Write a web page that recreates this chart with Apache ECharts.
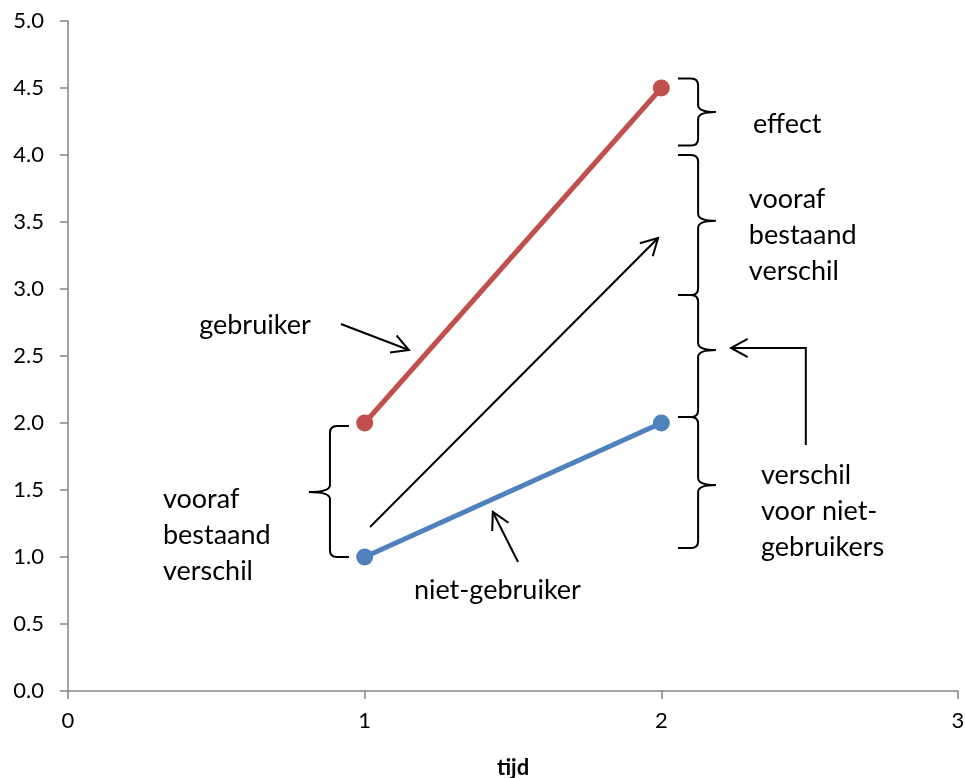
<!DOCTYPE html>
<html>
<head>
<meta charset="utf-8">
<script src="https://cdn.jsdelivr.net/npm/echarts@6/dist/echarts.min.js"></script>
<style>html,body{margin:0;padding:0;background:#fff}#c{width:965px;height:778px}</style>
</head>
<body>
<div id="c"></div>
<script>
// ---- data ----
var xTicks = [0, 1, 2, 3];
var yTicks = [0, 0.5, 1, 1.5, 2, 2.5, 3, 3.5, 4, 4.5, 5];
var tijd = [1, 2];
var gebruiker = [2.0, 4.5];
var nietGebruiker = [1.0, 2.0];

// braces: [xVertical, yTop, yBottom, xArm, xTip, yTip]
var braces = [
  [0.883, 1.978, 1.000, 0.947, 0.812, 1.485],
  [2.124, 4.570, 4.070, 2.056, 2.184, 4.320],
  [2.124, 4.000, 2.955, 2.056, 2.184, 3.510],
  [2.124, 2.955, 2.045, 2.056, 2.184, 2.545],
  [2.124, 2.045, 1.067, 2.056, 2.184, 1.537]
];
// arrows: polylines in data coordinates, arrowhead at last point
var arrows = [
  [[1.018, 1.224], [1.989, 3.381]],
  [[0.920, 2.739], [1.149, 2.545]],
  [[1.517, 0.963], [1.432, 1.336]],
  [[2.487, 1.836], [2.487, 2.560], [2.235, 2.560]]
];
// labels: [xLeft, yCenter, text]
var labels = [
  [2.309, 4.231, 'effect'],
  [2.295, 3.403, 'vooraf\nbestaand\nverschil'],
  [0.442, 2.731, 'gebruiker'],
  [0.320, 1.164, 'vooraf\nbestaand\nverschil'],
  [1.166, 0.754, 'niet-gebruiker'],
  [2.336, 1.343, 'verschil\nvoor niet-\ngebruikers']
];

var FONT = 'Lato';
var chart = echarts.init(document.getElementById('c'));

function bracePath(p) {
  var xV = p.xV, yT = p.yT, yB = p.yB, xA = p.xA, xT = p.xT, yM = p.yM;
  var d = xT > xV ? 1 : -1;
  var r = 7;
  return 'M' + xA + ',' + yT +
    ' L' + (xV - d * r) + ',' + yT +
    ' Q' + xV + ',' + yT + ' ' + xV + ',' + (yT + r) +
    ' L' + xV + ',' + (yM - r) +
    ' Q' + xV + ',' + yM + ' ' + xT + ',' + yM +
    ' Q' + xV + ',' + yM + ' ' + xV + ',' + (yM + r) +
    ' L' + xV + ',' + (yB - r) +
    ' Q' + xV + ',' + yB + ' ' + (xV - d * r) + ',' + yB +
    ' L' + xA + ',' + yB;
}

chart.setOption({
  animation: false,
  grid: {left: 68, right: 7, top: 21, bottom: 87, containLabel: false, outerBoundsMode: 'none'},
  xAxis: {
    type: 'value', min: xTicks[0], max: xTicks[xTicks.length - 1], interval: 1,
    name: 'tijd', nameLocation: 'middle', nameGap: 66,
    nameTextStyle: {fontFamily: FONT, fontWeight: 'bold', fontSize: 22, color: '#000'},
    axisLine: {lineStyle: {color: '#868686', width: 1.5}},
    axisTick: {show: true, inside: false, length: 8, lineStyle: {color: '#868686', width: 1.5}},
    axisLabel: {fontFamily: FONT, fontSize: 22, color: '#000', margin: 19},
    splitLine: {show: false}
  },
  yAxis: {
    type: 'value', min: yTicks[0], max: yTicks[yTicks.length - 1], interval: 0.5,
    axisLine: {show: true, lineStyle: {color: '#868686', width: 1.5}},
    axisTick: {show: true, inside: false, length: 8, lineStyle: {color: '#868686', width: 1.5}},
    axisLabel: {fontFamily: FONT, fontSize: 22, color: '#000', margin: 24,
      formatter: function (v) { return v.toFixed(1); }},
    splitLine: {show: false}
  },
  series: [
    {
      type: 'line', name: 'gebruiker',
      data: tijd.map(function (t, i) { return [t, gebruiker[i]]; }),
      lineStyle: {color: '#C0504D', width: 5},
      itemStyle: {color: '#C0504D'},
      symbol: 'circle', symbolSize: 17, z: 3
    },
    {
      type: 'line', name: 'niet-gebruiker',
      data: tijd.map(function (t, i) { return [t, nietGebruiker[i]]; }),
      lineStyle: {color: '#4F81BD', width: 5},
      itemStyle: {color: '#4F81BD'},
      symbol: 'circle', symbolSize: 17, z: 3
    },
    {
      type: 'custom', name: 'braces', z: 2,
      data: braces,
      encode: {x: [0, 3, 4], y: [1, 2, 5]},
      renderItem: function (params, api) {
        var top = api.coord([api.value(0), api.value(1)]);
        var bot = api.coord([api.value(0), api.value(2)]);
        var arm = api.coord([api.value(3), api.value(1)]);
        var tip = api.coord([api.value(4), api.value(5)]);
        return {
          type: 'path',
          shape: {pathData: bracePath({xV: top[0], yT: top[1], yB: bot[1], xA: arm[0], xT: tip[0], yM: tip[1]})},
          style: {stroke: '#000', fill: null, lineWidth: 2}
        };
      }
    },
    {
      type: 'custom', name: 'arrows', z: 2,
      data: arrows.map(function (a, i) { return [a[0][0], a[0][1], i]; }),
      renderItem: function (params, api) {
        var pts = arrows[params.dataIndex].map(function (p) { return api.coord(p); });
        var n = pts.length;
        var e = pts[n - 1], s = pts[n - 2];
        var ang = Math.atan2(e[1] - s[1], e[0] - s[0]);
        var L = 19, h = 0.5;
        var h1 = [e[0] - L * Math.cos(ang - h), e[1] - L * Math.sin(ang - h)];
        var h2 = [e[0] - L * Math.cos(ang + h), e[1] - L * Math.sin(ang + h)];
        return {
          type: 'group',
          children: [
            {type: 'polyline', shape: {points: pts}, style: {stroke: '#000', fill: null, lineWidth: 2}},
            {type: 'polyline', shape: {points: [h1, e, h2]}, style: {stroke: '#000', fill: null, lineWidth: 2}}
          ]
        };
      }
    },
    {
      type: 'custom', name: 'labels', z: 4,
      data: labels,
      encode: {x: 0, y: 1},
      renderItem: function (params, api) {
        var p = api.coord([api.value(0), api.value(1)]);
        return {
          type: 'text',
          x: p[0], y: p[1],
          style: {
            text: labels[params.dataIndex][2],
            fontFamily: FONT, fontSize: 27, lineHeight: 36,
            fill: '#000', align: 'left', verticalAlign: 'middle'
          }
        };
      }
    }
  ]
});
</script>
</body>
</html>
